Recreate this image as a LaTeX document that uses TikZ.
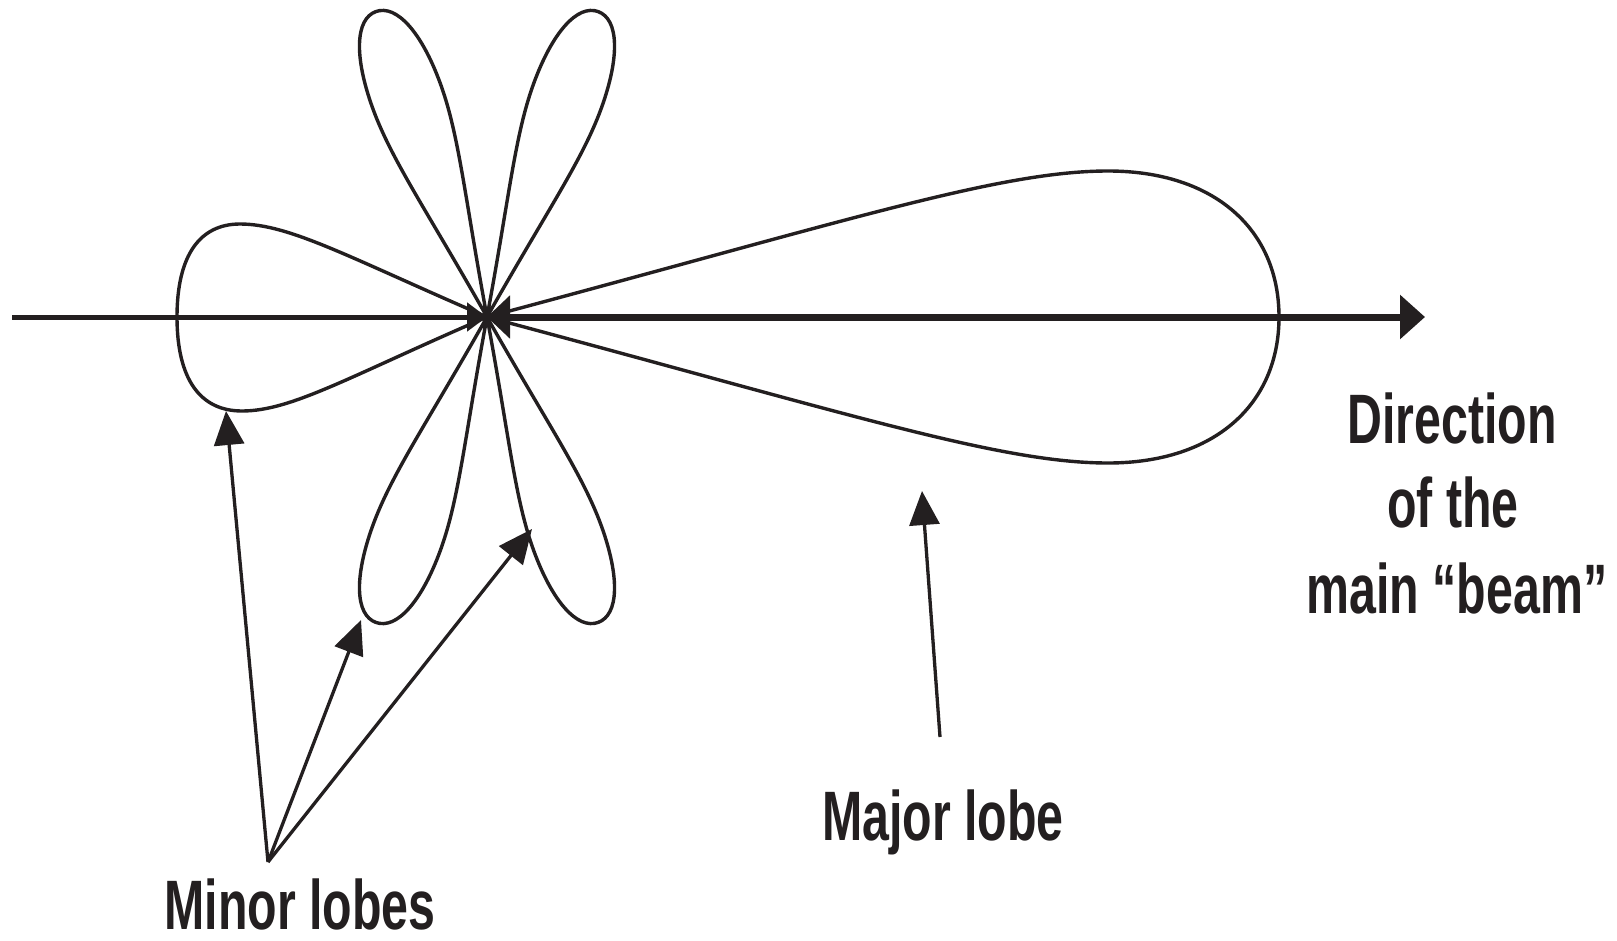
\documentclass[tikz,border=0pt]{standalone}
\usepackage{fontspec}
\usetikzlibrary{arrows.meta}
\newfontfamily\labfont{Liberation Sans}[FakeStretch=0.69]
\definecolor{ink}{RGB}{35,31,32}
\tikzset{
  lobe/.style={draw=ink, line width=3.4pt, line join=round},
  pointer/.style={draw=ink, line width=3.3pt, -{Triangle[length=34pt,width=30pt]}},
  lbl/.style={font=\labfont\bfseries\fontsize{70}{84}\selectfont, text=ink, inner sep=0pt, anchor=base},
  minorlobe/.pic={
    \draw[lobe] (0,0) .. controls (120,20) and (180,36) .. (235,36)
      .. controls (290,36) and (325,22) .. (325,0)
      .. controls (325,-22) and (290,-36) .. (235,-36)
      .. controls (180,-36) and (120,-20) .. (0,0);
  }
}
\begin{document}
\begin{tikzpicture}[x=1pt,y=-1pt]
\useasboundingbox (0,0) rectangle (1617,940);
\coordinate (O) at (487,317);
\coordinate (L) at (12,317);
\coordinate (R) at (1425,317);
% lobes
\draw[lobe] (O) .. controls (850,220) and (1000,171) .. (1108,171)
  .. controls (1215,171) and (1279,230) .. (1279,317)
  .. controls (1279,404) and (1215,463) .. (1108,463)
  .. controls (1000,463) and (850,414) .. (O);
\draw[lobe] (O) .. controls (350,258) and (290,224) .. (240,224)
  .. controls (200,224) and (177,255) .. (177,317)
  .. controls (177,379) and (200,411) .. (242,411)
  .. controls (292,411) and (350,376) .. (O);
\pic[shift={(O)}, rotate=110] {minorlobe};
\pic[shift={(O)}, rotate=70] {minorlobe};
\pic[shift={(O)}, rotate=250] {minorlobe};
\pic[shift={(O)}, rotate=290] {minorlobe};
% axis
\draw[draw=ink, line width=5pt, -{Triangle[length=20pt,width=28pt]}] (L) -- (O);
\draw[draw=ink, line width=7pt, {Triangle[length=23pt,width=42pt]}-{Triangle[length=25pt,width=43pt]}] (O) -- (R);
% labels
\node[lbl] (dir1) at (1452,443) {Direction};
\node[lbl] (dir2) at (1453,527) {of the};
\node[lbl] (dir3) at (1457,613) {main “beam”};
\node[lbl] (major) at (943,840) {Major lobe};
\node[lbl] (minor) at (300,929) {Minor lobes};
% pointers
\coordinate (minsrc) at (268,862);
\coordinate (majsrc) at (940,737);
\coordinate (t1) at (226,411);
\coordinate (t2) at (361,620);
\coordinate (t3) at (532,529);
\coordinate (t4) at (922,491);
\draw[pointer] (minsrc) -- (t1);
\draw[pointer] (minsrc) -- (t2);
\draw[pointer] (minsrc) -- (t3);
\draw[pointer] (majsrc) -- (t4);
\end{tikzpicture}
\end{document}
